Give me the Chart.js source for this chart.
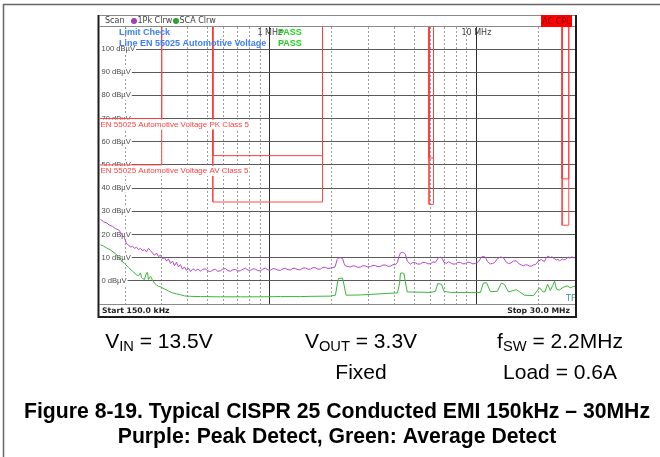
<!DOCTYPE html>
<html>
<head>
<meta charset="utf-8">
<script src="https://cdn.jsdelivr.net/npm/chart.js@4.4.1/dist/chart.umd.min.js"></script>
<style>
  html, body { margin: 0; padding: 0; background: #fff; }
  canvas { display: block; }
</style>
</head>
<body>
<canvas id="emiChart" width="660" height="457"></canvas>
<script>
// peak detector trace, frequency in MHz / level in dBuV
const peakFreq = [0.1517, 0.1568, 0.1622, 0.1677, 0.1734, 0.1793, 0.1854, 0.1895, 0.1938, 0.1982,
  0.2026, 0.2072, 0.2119, 0.2167, 0.2215, 0.2265, 0.2316, 0.2369, 0.2422, 0.2476,
  0.2532, 0.2589, 0.2648, 0.2707, 0.2768, 0.2831, 0.2894, 0.296, 0.3026, 0.3095,
  0.3164, 0.3235, 0.3308, 0.3383, 0.3458, 0.3536, 0.3616, 0.3698, 0.378, 0.3866,
  0.3953, 0.4042, 0.4132, 0.425, 0.437, 0.449, 0.462, 0.474, 0.487, 0.502,
  0.517, 0.531, 0.546, 0.561, 0.577, 0.593, 0.61, 0.627, 0.645, 0.663,
  0.682, 0.702, 0.722, 0.742, 0.763, 0.785, 0.807, 0.83, 0.853, 0.877,
  0.902, 0.927, 0.953, 0.98, 1.008, 1.037, 1.066, 1.096, 1.127, 1.159,
  1.191, 1.225, 1.259, 1.295, 1.332, 1.37, 1.408, 1.448, 1.488, 1.531,
  1.574, 1.619, 1.664, 1.711, 1.759, 1.809, 1.86, 1.913, 1.966, 2.02,
  2.07, 2.12, 2.15, 2.2, 2.25, 2.29, 2.32, 2.39, 2.457, 2.53,
  2.6, 2.67, 2.746, 2.82, 2.9, 2.98, 3.07, 3.16, 3.25, 3.34,
  3.43, 3.53, 3.63, 3.73, 3.84, 3.95, 4.06, 4.15, 4.22, 4.29,
  4.36, 4.43, 4.53, 4.63, 4.79, 4.92, 5.06, 5.2, 5.36, 5.51,
  5.67, 5.83, 5.99, 6.16, 6.33, 6.45, 6.55, 6.7, 6.85, 6.96,
  7.16, 7.32, 7.49, 7.7, 7.92, 8.14, 8.37, 8.6, 8.85, 9.1,
  9.35, 9.62, 9.89, 10.23, 10.46, 10.58, 10.93, 11.1, 11.3, 11.69,
  11.95, 12.22, 12.64, 13.06, 13.5, 13.96, 14.3, 14.6, 15.1, 15.6,
  16.1, 16.5, 16.9, 17.3, 17.7, 18.1, 18.5, 18.9, 19.3, 19.96,
  20.6, 21.3, 21.7, 22.1, 22.8, 23.2, 23.6, 24.4, 24.8, 25.2,
  25.6, 26.1, 26.5, 27.0, 27.4, 27.9, 28.4, 28.9, 29.4, 30.0];
const peakLevel = [26.5, 25.5, 25.0, 24.0, 23.5, 22.5, 22.0, 21.0, 19.5, 18.5,
  16.0, 15.5, 14.5, 15.0, 14.0, 14.5, 13.5, 14.0, 13.0, 13.5,
  12.5, 14.0, 13.0, 12.0, 11.0, 12.0, 10.5, 11.0, 9.5, 10.0,
  8.5, 9.5, 7.5, 8.5, 6.5, 8.0, 6.0, 7.0, 5.0, 6.0,
  4.5, 5.5, 4.0, 5.2, 4.4, 5.0, 4.2, 4.9, 5.2, 4.3,
  4.0, 4.7, 5.0, 4.1, 4.3, 5.1, 5.3, 4.4, 4.1, 4.8,
  4.9, 4.2, 4.4, 5.0, 5.4, 4.6, 4.5, 5.2, 5.0, 4.4,
  4.3, 5.1, 5.5, 4.7, 4.6, 5.3, 5.1, 4.6, 4.5, 5.2,
  5.4, 4.8, 4.7, 5.4, 5.3, 4.8, 4.8, 5.5, 5.6, 5.0,
  5.0, 5.7, 5.6, 5.0, 5.1, 5.8, 5.8, 5.3, 5.5, 5.7,
  6.0, 9.2, 9.8, 10.0, 9.6, 7.5, 6.5, 6.1, 6.0, 6.5,
  6.3, 5.8, 5.9, 6.5, 6.4, 6.0, 6.1, 6.7, 6.5, 6.1,
  6.2, 6.8, 6.8, 6.3, 6.3, 7.0, 7.0, 8.0, 10.5, 12.0,
  12.4, 12.2, 11.5, 8.5, 7.2, 7.9, 7.8, 7.2, 7.3, 8.0,
  7.9, 7.3, 7.4, 8.1, 8.0, 9.0, 10.0, 10.2, 9.5, 8.0,
  7.6, 8.2, 7.8, 7.2, 7.3, 8.0, 7.9, 7.3, 7.4, 8.1,
  7.8, 7.3, 7.5, 8.2, 9.5, 10.3, 10.5, 9.8, 8.3, 7.3,
  7.5, 7.8, 9.5, 10.3, 10.0, 8.0, 7.5, 7.6, 8.5, 8.6,
  7.3, 6.8, 6.5, 6.9, 6.8, 6.3, 6.4, 6.9, 7.0, 8.5,
  9.2, 8.3, 9.6, 10.6, 10.0, 10.4, 9.8, 9.0, 9.4, 8.6,
  8.9, 9.4, 9.0, 9.3, 9.8, 10.2, 9.7, 10.4, 10.0, 9.9];

// average detector trace
const avgFreq = [0.1517, 0.1568, 0.1622, 0.170, 0.1762, 0.1823, 0.1895, 0.1982, 0.2072, 0.2167,
  0.2265, 0.2316, 0.2369, 0.2395, 0.2422, 0.2476, 0.2532, 0.256, 0.2589, 0.2618,
  0.2648, 0.2677, 0.2707, 0.2768, 0.2831, 0.2894, 0.296, 0.3095, 0.3235, 0.3383,
  0.3536, 0.3698, 0.3866, 0.4132, 0.462, 0.577, 0.722, 0.902, 1.127, 1.408,
  1.574, 1.966, 2.079, 2.125, 2.15, 2.25, 2.29, 2.34, 2.746, 3.43,
  4.15, 4.25, 4.29, 4.36, 4.46, 4.53, 4.63, 5.99, 6.33, 6.5,
  6.78, 6.96, 7.49, 10.46, 10.8, 11.2, 11.69, 12.64, 13.2, 13.65,
  14.3, 15.1, 15.6, 16.1, 17.1, 18.9, 19.6, 20.2, 21.0, 21.5,
  22.1, 22.8, 23.4, 23.9, 24.4, 25.2, 26.3, 27.5, 28.5, 29.6, 30.0];
const avgLevel = [15.5, 15.0, 14.2, 13.2, 12.2, 11.0, 9.0, 7.5, 5.8, 4.2,
  2.6, 2.2, 3.4, 1.5, 1.0, 0.6, 3.4, 3.6, 0.6, 1.4,
  2.0, 1.2, 0.2, -1.0, -1.8, -2.4, -2.6, -3.5, -4.4, -5.2,
  -5.6, -6.0, -6.5, -6.7, -6.8, -6.9, -6.9, -6.9, -6.8, -6.8,
  -6.7, -6.6, -6.2, -1.0, 1.0, 1.2, -2.0, -6.2, -6.1, -5.6,
  -5.2, -1.0, 3.3, 3.4, 3.2, -0.5, -4.8, -5.0, -4.6, -1.2,
  -1.5, -4.5, -5.0, -5.0, -1.0, -0.8, -4.7, -4.5, -1.0, -1.5,
  -4.8, -4.2, -3.8, -4.6, -6.2, -6.4, -4.5, -3.0, -4.8, -4.7,
  -1.4, -4.2, -2.0, -0.2, -3.5, -4.0, -2.8, -2.2, -3.0, -2.4, -2.5];

// EN 55025 / CISPR 25 class 5 limit bands
const bandStart = [0.15, 0.53, 5.9, 26];
const bandStop = [0.3, 1.8, 6.2, 28];
const pkLimit = [70, 54, 53, 44];
const avLimit = [50, 34, 33, 24];

// grid
const freqMin = 0.15;
const freqMax = 30;
const minorFreqs = [0.2, 0.3, 0.4, 0.5, 0.6, 0.7, 0.8, 0.9, 2, 3, 4, 5, 6, 7, 8, 9, 20];
const majorFreqs = [1, 10];
const majorLabels = ['1 MHz', '10 MHz'];
const levelTicks = [0, 10, 20, 30, 40, 50, 60, 70, 80, 90, 100];
const levelMin = -10;
const levelMax = 109.5;

function toPoints(xs, ys) {
  return xs.map((x, i) => ({ x: x, y: ys[i] }));
}

// each band: down from the top edge, across at the limit, back up, then a gap
function limitPoints(levels) {
  const pts = [];
  bandStart.forEach((f, i) => {
    if (f > freqMin) pts.push({ x: f, y: levelMax });
    pts.push({ x: f, y: levels[i] }, { x: bandStop[i], y: levels[i] },
      { x: bandStop[i], y: levelMax }, { x: bandStop[i], y: null });
  });
  return pts;
}

function subText(ctx, cx, y, main, sub, rest, size) {
  const big = size + 'px "Liberation Sans", Arial, sans-serif';
  const small = (size * 0.7) + 'px "Liberation Sans", Arial, sans-serif';
  ctx.font = big;
  const w1 = ctx.measureText(main).width;
  const w3 = ctx.measureText(rest).width;
  ctx.font = small;
  const w2 = ctx.measureText(sub).width;
  let x = cx - (w1 + w2 + w3) / 2;
  ctx.textAlign = 'left';
  ctx.font = big;
  ctx.fillText(main, x, y);
  ctx.font = small;
  ctx.fillText(sub, x + w1, y + 3);
  ctx.font = big;
  ctx.fillText(rest, x + w1 + w2, y);
}

const analyzerDecor = {
  id: 'analyzerDecor',
  beforeDraw(chart) {
    const ctx = chart.ctx;
    ctx.save();
    ctx.fillStyle = '#fff';
    ctx.fillRect(0, 0, chart.width, chart.height);
    ctx.restore();
  },
  afterDatasetsDraw(chart) {
    const ctx = chart.ctx;
    const a = chart.chartArea;
    const ys = chart.scales.y;
    ctx.save();
    ctx.font = '8px "Liberation Sans", Arial, sans-serif';
    ctx.textBaseline = 'middle';
    [['EN 55025 Automotive Voltage PK Class 5', pkLimit[0]],
     ['EN 55025 Automotive Voltage AV Class 5', avLimit[0]]].forEach(([txt, lvl]) => {
      const py = ys.getPixelForValue(lvl);
      const w = ctx.measureText(txt).width;
      ctx.fillStyle = '#fff';
      ctx.fillRect(a.left, py + 1, w + 2, 10);
      ctx.fillStyle = '#ff4040';
      ctx.fillText(txt, a.left + 1, py + 6);
    });
    ctx.restore();
  },
  afterDraw(chart) {
    const ctx = chart.ctx;
    const a = chart.chartArea;
    const xs = chart.scales.x;
    ctx.save();

    // header strip
    ctx.fillStyle = '#fff';
    ctx.fillRect(a.left, 15, a.right - a.left, a.top - 15);
    ctx.strokeStyle = '#8a8a8a';
    ctx.lineWidth = 1;
    ctx.beginPath();
    ctx.moveTo(a.left, 15.5); ctx.lineTo(a.right, 15.5);
    ctx.moveTo(a.left, a.top - 0.5); ctx.lineTo(a.right, a.top - 0.5);
    ctx.stroke();
    ctx.textBaseline = 'middle';
    ctx.textAlign = 'left';
    ctx.font = '8px "DejaVu Sans", sans-serif';
    ctx.fillStyle = '#404040';
    ctx.fillText('Scan', 105, 21);
    ctx.fillStyle = '#a040b0';
    ctx.beginPath(); ctx.arc(134, 21, 3, 0, Math.PI * 2); ctx.fill();
    ctx.fillStyle = '#404040';
    ctx.fillText('1Pk Clrw', 137.5, 21);
    ctx.fillStyle = '#30a030';
    ctx.beginPath(); ctx.arc(176, 21, 3, 0, Math.PI * 2); ctx.fill();
    ctx.fillStyle = '#404040';
    ctx.fillText('SCA Clrw', 179.5, 21);
    ctx.fillStyle = '#ff0000';
    ctx.fillRect(541, 15, 31, 12);
    ctx.fillStyle = '#7a0000';
    ctx.textAlign = 'center';
    ctx.fillText('AC CPL', 556.5, 21.5);

    // marker labels in the plot
    ctx.font = '8px "DejaVu Sans", sans-serif';
    ctx.fillStyle = '#404040';
    majorFreqs.forEach((f, i) => {
      ctx.fillText(majorLabels[i], xs.getPixelForValue(f), 33);
    });
    ctx.textAlign = 'left';
    ctx.font = 'bold 9px "Liberation Sans", Arial, sans-serif';
    ctx.fillStyle = '#3c80f0';
    ctx.fillText('Limit Check', 119, 32.5);
    ctx.fillText('Line EN 55025 Automotive Voltage', 119, 43.5);
    ctx.fillStyle = '#22d022';
    ctx.fillText('PASS', 278, 32.5);
    ctx.fillText('PASS', 278, 43.5);
    ctx.font = '8px "DejaVu Sans", sans-serif';
    ctx.fillStyle = '#3a8e9c';
    ctx.fillText('TF', 566, a.bottom - 5);

    // footer strip
    ctx.fillStyle = '#fff';
    ctx.fillRect(a.left, a.bottom + 1, a.right - a.left, 316 - a.bottom - 1);
    ctx.strokeStyle = '#8a8a8a';
    ctx.beginPath();
    ctx.moveTo(a.left, a.bottom + 0.5); ctx.lineTo(a.right, a.bottom + 0.5);
    ctx.stroke();
    ctx.font = 'bold 7.7px "DejaVu Sans", sans-serif';
    ctx.fillStyle = '#222';
    ctx.fillText('Start 150.0 kHz', 102, 311);
    ctx.textAlign = 'right';
    ctx.fillText('Stop 30.0 MHz', 570, 311);

    // instrument frame
    ctx.strokeStyle = '#1e1e1e';
    ctx.lineWidth = 2;
    ctx.beginPath();
    ctx.moveTo(98.5, 15); ctx.lineTo(98.5, 317); ctx.lineTo(576, 317); ctx.lineTo(576, 15);
    ctx.stroke();

    // page frame
    ctx.strokeStyle = '#666';
    ctx.lineWidth = 1.5;
    ctx.beginPath();
    ctx.moveTo(660, 4.5); ctx.lineTo(3.5, 4.5); ctx.lineTo(3.5, 457);
    ctx.stroke();

    // test conditions
    ctx.fillStyle = '#000';
    ctx.textBaseline = 'alphabetic';
    subText(ctx, 159, 348, 'V', 'IN', ' = 13.5V', 21);
    subText(ctx, 361, 348, 'V', 'OUT', ' = 3.3V', 21);
    subText(ctx, 560, 348, 'f', 'SW', ' = 2.2MHz', 21);
    ctx.textAlign = 'center';
    ctx.font = '21px "Liberation Sans", Arial, sans-serif';
    ctx.fillText('Fixed', 361, 379);
    ctx.fillText('Load = 0.6A', 560, 379);

    // caption
    ctx.font = 'bold 21.2px "Liberation Sans", Arial, sans-serif';
    ctx.fillText('Figure 8-19. Typical CISPR 25 Conducted EMI 150kHz \u2013 30MHz', 337, 418);
    ctx.fillText('Purple: Peak Detect, Green: Average Detect', 337, 443);
    ctx.restore();
  }
};

const ctx = document.getElementById('emiChart').getContext('2d');

new Chart(ctx, {
  type: 'line',
  data: {
    datasets: [
      {
        label: '1Pk Clrw',
        data: toPoints(peakFreq, peakLevel),
        borderColor: '#b448c8',
        borderWidth: 1,
        pointRadius: 0
      },
      {
        label: 'SCA Clrw',
        data: toPoints(avgFreq, avgLevel),
        borderColor: '#3cb43c',
        borderWidth: 1,
        pointRadius: 0
      },
      {
        label: 'PK Class 5',
        data: limitPoints(pkLimit),
        borderColor: '#ff3b3b',
        borderWidth: 1,
        pointRadius: 0,
        spanGaps: false
      },
      {
        label: 'AV Class 5',
        data: limitPoints(avLimit),
        borderColor: '#ff4a4a',
        borderWidth: 1,
        pointRadius: 0,
        spanGaps: false
      }
    ]
  },
  options: {
    responsive: false,
    animation: false,
    events: [],
    layout: { padding: { left: 95.5, top: 27, right: 85, bottom: 153 } },
    elements: { line: { tension: 0 } },
    plugins: {
      legend: { display: false },
      title: { display: false },
      tooltip: { enabled: false }
    },
    scales: {
      x: {
        type: 'logarithmic',
        min: freqMin,
        max: freqMax,
        afterBuildTicks: scale => { scale.ticks = minorFreqs.map(v => ({ value: v })); },
        ticks: { display: false },
        border: { display: false, dash: [2, 2] },
        grid: { color: '#9c9c9c', lineWidth: 1, drawTicks: false }
      },
      xMajor: {
        type: 'logarithmic',
        position: 'bottom',
        min: freqMin,
        max: freqMax,
        afterBuildTicks: scale => { scale.ticks = majorFreqs.map(v => ({ value: v })); },
        ticks: { display: false },
        border: { display: false },
        grid: { color: '#2e2e2e', lineWidth: 1, drawTicks: false }
      },
      y: {
        min: levelMin,
        max: levelMax,
        afterBuildTicks: scale => { scale.ticks = levelTicks.map(v => ({ value: v })); },
        border: { display: false },
        grid: { color: '#5a5a5a', lineWidth: 1, drawTicks: false },
        ticks: {
          mirror: true,
          padding: 2,
          color: '#4a4a4a',
          font: { family: '"Liberation Sans", Arial, sans-serif', size: 7.6 },
          showLabelBackdrop: true,
          backdropColor: '#fff',
          backdropPadding: { top: 0, bottom: 0, left: 3, right: 1 },
          callback: v => v + ' dB\u00b5V'
        }
      }
    }
  },
  plugins: [analyzerDecor]
});
</script>
</body>
</html>
